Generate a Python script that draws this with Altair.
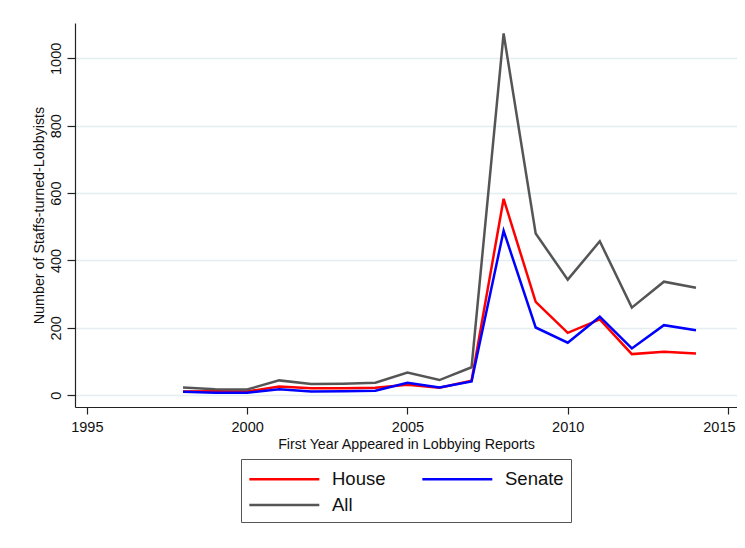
import altair as alt
import pandas as pd

years = [1998, 1999, 2000, 2001, 2002, 2003, 2004, 2005, 2006, 2007,
         2008, 2009, 2010, 2011, 2012, 2013, 2014]
house = [11, 12, 11, 26, 21, 21, 22, 31, 22, 43, 583, 277, 185, 225, 122, 129, 124]
senate = [10, 7, 7, 18, 11, 12, 13, 37, 23, 41, 488, 201, 156, 233, 139, 208, 193]
all_staff = [23, 18, 17, 44, 33, 34, 37, 67, 45, 83, 1074, 480, 343, 457, 260, 337, 319]

series_names = ["House", "Senate", "All"]
series_colors = ["#ff0000", "#0000ff", "#555555"]
x_ticks = [1995, 2000, 2005, 2010, 2015]
y_ticks = [0, 200, 400, 600, 800, 1000]

rows = []
for name, vals in zip(series_names, [house, senate, all_staff]):
    for yr, v in zip(years, vals):
        rows.append({"year": yr, "count": v, "series": name})
df = pd.DataFrame(rows)

FONT = "Liberation Sans"

chart = alt.Chart(df).mark_line(strokeWidth=2.5).encode(
    x=alt.X(
        "year:Q",
        scale=alt.Scale(domain=[1994.63, 2015.28], nice=False, zero=False),
        axis=alt.Axis(
            values=x_ticks, format="d", grid=False,
            title="First Year Appeared in Lobbying Reports",
            tickSize=7, labelPadding=6, labelFontSize=14.5, labelFont=FONT,
            labelColor="#111111", titleFont=FONT, titleFontSize=14.3,
            titleFontWeight="normal", titleColor="#111111",
            titleY=41, titleBaseline="alphabetic",
            domainColor="#222222", tickColor="#222222", domainWidth=1.2,
            tickWidth=1.2, labelFlush=10, labelFlushOffset=7,
            labelOverlap=False,
        ),
    ),
    y=alt.Y(
        "count:Q",
        scale=alt.Scale(domain=[-35, 1105], nice=False, zero=False),
        axis=alt.Axis(
            values=y_ticks, format="d", title="Number of Staffs-turned-Lobbyists",
            labelAngle=270, labelAlign="center", labelBaseline="alphabetic",
            tickSize=8, labelPadding=7, labelFontSize=14.5, labelFont=FONT,
            labelColor="#111111", titleFont=FONT, titleFontSize=14.3,
            titleFontWeight="normal", titleColor="#111111",
            titleAngle=270, titleX=-32, titleY=192, titleAlign="center",
            titleBaseline="alphabetic",
            grid=True, gridColor="#e4eef0", gridWidth=1.5,
            domainColor="#222222", tickColor="#222222", domainWidth=1.2,
            tickWidth=1.2, labelFlush=False, labelOverlap=False,
        ),
    ),
    color=alt.Color(
        "series:N",
        sort=series_names,
        scale=alt.Scale(domain=series_names, range=series_colors),
        legend=alt.Legend(
            title=None, orient="none", legendX=166, legendY=436,
            columns=2, direction="horizontal",
            symbolType="M-1,0H5", symbolSize=544,
            symbolStrokeWidth=2.5, labelFontSize=18.5, labelFont=FONT,
            labelColor="#111111", labelOffset=58, columnPadding=31,
            rowPadding=3, padding=7, strokeColor="#555555",
            fillColor="white",
        ),
    ),
).properties(
    width=662,
    height=384,
    autosize=alt.AutoSizeParams(type="none"),
    padding={"left": 67, "top": 15, "right": 0, "bottom": 125},
    background="white",
).configure_view(stroke=None)

chart.save("out.html", embed_options={"renderer": "svg", "actions": False})
